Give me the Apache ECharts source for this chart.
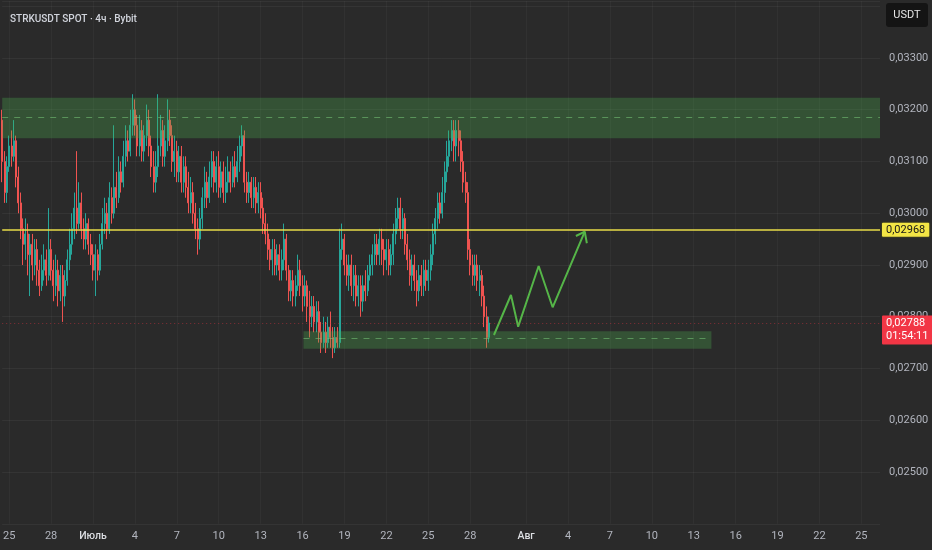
<!DOCTYPE html>
<html><head><meta charset="utf-8">
<script src="https://cdn.jsdelivr.net/npm/echarts@6/dist/echarts.min.js"></script>
<style>html,body{margin:0;padding:0;background:#2a2a2a;}#c{width:932px;height:550px;}</style>
</head><body><div id="c"></div>
<script>
// ---- data ----
const titleText = 'STRKUSDT SPOT · 4ч · Bybit';
const quoteCurrency = 'USDT';
const startUTC = Date.UTC(2025, 5, 24, 12); // first 4h candle
const stepHours = 4;
const slotCount = 378;                      // visible 4h slots incl. empty future
const monthNames = {5: 'Июнь', 6: 'Июль', 7: 'Авг'};
const tickDays = [1, 4, 7, 10, 13, 16, 19, 22, 25, 28];
const priceMin = 0.024, priceMax = 0.0341, priceStep = 0.001, lastLabelPrice = 0.033;

const firstOpen = 0.0318;
const closes = [
0.0310,0.0304,0.0309,0.0313,0.0311,0.0314,0.0307,0.0302,0.0297,0.0294,
0.0296,0.0292,0.0294,0.0290,0.0293,0.0289,0.0286,0.0289,0.0291,0.0288,
0.0293,0.0289,0.0286,0.0289,0.0285,0.0288,0.0284,0.0287,0.0291,0.0294,
0.0297,0.0301,0.0298,0.0302,0.0297,0.0295,0.0298,0.0294,0.0292,0.0289,
0.0292,0.0289,0.0294,0.0298,0.0300,0.0297,0.0303,0.0300,0.0305,0.0303,
0.0308,0.0306,0.0311,0.0314,0.0312,0.0317,0.0320,0.0317,0.0313,0.0316,
0.0312,0.0315,0.0318,0.0313,0.0309,0.0306,0.0309,0.0313,0.0316,0.0311,
0.0314,0.0318,0.0315,0.0310,0.0312,0.0308,0.0311,0.0306,0.0309,0.0305,
0.0302,0.0304,0.0300,0.0297,0.0295,0.0299,0.0303,0.0306,0.0303,0.0307,
0.0310,0.0306,0.0309,0.0305,0.0308,0.0304,0.0306,0.0308,0.0306,0.0309,
0.0307,0.0310,0.0313,0.0315,0.0306,0.0304,0.0306,0.0303,0.0305,0.0302,
0.0304,0.0301,0.0298,0.0296,0.0293,0.0291,0.0293,0.0290,0.0292,0.0289,
0.0291,0.0295,0.0289,0.0285,0.0287,0.0284,0.0286,0.0289,0.0286,0.0284,
0.0286,0.0282,0.0280,0.0282,0.0279,0.0281,0.0277,0.0275,0.0277,0.0275,
0.0278,0.0276,0.0274,0.0276,0.0275,0.0293,0.0295,0.0290,0.0288,0.0290,
0.0286,0.0288,0.0284,0.0286,0.0283,0.0286,0.0285,0.0288,0.0290,0.0292,
0.0294,0.0292,0.0295,0.0293,0.0291,0.0293,0.0290,0.0292,0.0296,0.0299,
0.0301,0.0297,0.0299,0.0294,0.0291,0.0288,0.0290,0.0287,0.0285,0.0288,
0.0286,0.0289,0.0287,0.0289,0.0292,0.0296,0.0299,0.0302,0.0300,0.0304,
0.0308,0.0311,0.0314,0.0316,0.0313,0.0316,0.0314,0.0310,0.0306,0.0304,
0.0293,0.0290,0.0288,0.0290,0.0287,0.0288,0.0284,0.0280,0.0276,0.02788];
const highs = [
.0320,.0312,.0311,.0315,.0316,.0318,.0315,.0309,.0304,.0299,
.0299,.0298,.0296,.0296,.0295,.0295,.0291,.0292,.0294,.0293,
.0301,.0295,.0291,.0292,.0291,.0290,.0290,.0289,.0293,.0297,
.0300,.0304,.0312,.0306,.0304,.0299,.0300,.0299,.0296,.0294,
.0294,.0293,.0296,.0301,.0303,.0302,.0306,.0305,.0317,.0308,
.0311,.0310,.0314,.0317,.0316,.0320,.0323,.0322,.0319,.0319,
.0318,.0317,.0321,.0320,.0315,.0312,.0312,.0323,.0319,.0318,
.0317,.0322,.0320,.0317,.0315,.0314,.0313,.0313,.0311,.0311,
.0308,.0307,.0306,.0302,.0299,.0301,.0305,.0309,.0308,.0310,
.0312,.0312,.0311,.0312,.0310,.0310,.0309,.0311,.0310,.0311,
.0312,.0313,.0315,.0317,.0316,.0308,.0308,.0307,.0307,.0307,
.0306,.0306,.0303,.0300,.0298,.0295,.0295,.0295,.0294,.0294,
.0293,.0298,.0296,.0290,.0289,.0289,.0288,.0292,.0291,.0288,
.0288,.0287,.0285,.0284,.0284,.0283,.0283,.0279,.0280,.0279,
.0280,.0281,.0278,.0278,.0278,.0297,.0298,.0296,.0292,.0292,
.0292,.0290,.0290,.0288,.0288,.0288,.0289,.0290,.0292,.0294,
.0296,.0296,.0297,.0297,.0295,.0295,.0295,.0294,.0298,.0301,
.0303,.0303,.0301,.0300,.0296,.0293,.0292,.0292,.0289,.0290,
.0290,.0291,.0291,.0291,.0294,.0298,.0301,.0304,.0304,.0307,
.0310,.0314,.0316,.0318,.0318,.0318,.0318,.0316,.0312,.0308,
.0306,.0295,.0292,.0292,.0292,.0290,.0289,.0286,.0282,.0280];
const lows = [
.0306,.0302,.0302,.0308,.0309,.0310,.0305,.0300,.0295,.0290,
.0291,.0288,.0284,.0287,.0288,.0286,.0284,.0285,.0287,.0286,
.0287,.0287,.0283,.0284,.0282,.0283,.0279,.0282,.0286,.0289,
.0292,.0295,.0296,.0297,.0295,.0293,.0293,.0292,.0290,.0287,
.0284,.0287,.0288,.0293,.0296,.0295,.0296,.0298,.0299,.0301,
.0302,.0304,.0305,.0309,.0310,.0311,.0315,.0315,.0311,.0311,
.0310,.0310,.0313,.0311,.0307,.0304,.0304,.0307,.0311,.0309,
.0309,.0312,.0313,.0308,.0307,.0306,.0306,.0304,.0304,.0303,
.0300,.0300,.0298,.0295,.0292,.0293,.0297,.0301,.0301,.0302,
.0305,.0304,.0304,.0303,.0303,.0302,.0302,.0304,.0304,.0305,
.0305,.0306,.0308,.0311,.0304,.0302,.0302,.0301,.0301,.0300,
.0300,.0299,.0296,.0294,.0291,.0289,.0288,.0288,.0288,.0287,
.0287,.0289,.0287,.0283,.0283,.0282,.0282,.0285,.0284,.0281,
.0282,.0279,.0276,.0278,.0277,.0277,.0275,.0273,.0274,.0273,
.0274,.0274,.0272,.0273,.0274,.0274,.0291,.0288,.0286,.0285,
.0284,.0283,.0282,.0282,.0280,.0281,.0283,.0284,.0287,.0288,
.0290,.0290,.0290,.0290,.0288,.0289,.0288,.0288,.0290,.0294,
.0297,.0295,.0295,.0292,.0289,.0286,.0285,.0285,.0282,.0283,
.0284,.0284,.0285,.0285,.0287,.0290,.0294,.0297,.0298,.0299,
.0302,.0306,.0309,.0312,.0310,.0310,.0311,.0308,.0304,.0302,
.0291,.0288,.0286,.0286,.0285,.0284,.0282,.0278,.0274,.0275];

// drawings (slot index, price)
const resistanceZone = [0.03223, 0.03145];
const resistanceMid = 0.031846;
const supportZone = [0.02772, 0.02738];
const supportMid = 0.027584;
const supportZoneSlots = [129.4, 304.6];
const keyLevel = 0.02968;
const lastPrice = 0.02788;
const countdown = '01:54:11';
const projectionPath = [[211.2,0.027647],[218.5,0.02842],[221.6,0.027808],[230.4,0.028981],[236.4,0.028183],[250.2,0.029643]];
const arrowHead = [[246.4,0.02956],[250.2,0.029643],[251.1,0.02942]];

// ---- build ----
const slotDates = [];
const categories = [];
for (let i = 0; i < slotCount; i++) {
  const d = new Date(startUTC + i * stepHours * 3600e3);
  slotDates.push(d);
  categories.push(d.toISOString().slice(0, 16));
}
const candles = closes.map((c, i) => [i === 0 ? firstOpen : closes[i - 1], c, lows[i], highs[i]]);
const isTick = (idx) => { const d = slotDates[idx]; return d && d.getUTCHours() === 0 && tickDays.includes(d.getUTCDate()); };
const fmtPrice = (v) => v.toFixed(5).replace('.', ',');
const lastX = slotCount - 1;

const chart = echarts.init(document.getElementById('c'));
chart.setOption({
  animation: false,
  backgroundColor: '#2a2a2a',
  textStyle: {fontFamily: 'Roboto, "Liberation Sans", sans-serif'},
  title: {text: titleText, left: 5, top: 9, textStyle: {color: '#d1d4dc', fontSize: 10, fontWeight: 500, fontFamily: 'Roboto'}},
  grid: {left: 0, right: 52, top: 1.07, bottom: 26.25},
  xAxis: [{
    type: 'category', data: categories, boundaryGap: false,
    axisLine: {show: false}, axisTick: {show: false},
    axisLabel: {
      interval: (idx) => isTick(idx), color: '#b2b5be', fontSize: 11, margin: 7,
      formatter: (val, idx) => { const d = slotDates[idx]; return d.getUTCDate() === 1 ? '{m|' + monthNames[d.getUTCMonth()] + '}' : String(d.getUTCDate()); },
      rich: {m: {color: '#dcdee2', fontWeight: 500, fontSize: 10.5}}
    },
    splitLine: {show: true, interval: (idx) => isTick(idx), lineStyle: {color: 'rgba(255,255,255,0.035)', width: 1}}
  }, {
    type: 'value', min: 0, max: lastX, show: false
  }],
  yAxis: {
    type: 'value', position: 'right', min: priceMin, max: priceMax, interval: priceStep, scale: true,
    axisLine: {show: false}, axisTick: {show: false},
    axisLabel: {color: '#b2b5be', fontSize: 11, margin: 9, showMinLabel: false, showMaxLabel: false,
      formatter: (v) => (v > lastLabelPrice + 1e-6 || v < priceMin + 1e-6) ? '' : fmtPrice(v)},
    splitLine: {lineStyle: {color: '#343434', width: 1}}
  },
  graphic: [{
    type: 'group', right: 4, top: 3, z: 100, children: [
      {type: 'rect', shape: {x: 0, y: 0, width: 42, height: 24, r: 3}, style: {fill: '#141414'}},
      {type: 'text', style: {x: 21, y: 12, text: quoteCurrency, fill: '#e6e6e6', fontSize: 11, fontFamily: 'Roboto', align: 'center', verticalAlign: 'middle'}}
    ]
  }],
  series: [{
    type: 'candlestick', data: candles, barWidth: 1.5, z: 2,
    itemStyle: {color: '#26a69a', color0: '#ef5350', borderColor: '#26a69a', borderColor0: '#ef5350', borderWidth: 1}
  }, {
    type: 'line', xAxisIndex: 1, data: projectionPath, showSymbol: false, symbol: 'none', z: 4,
    lineStyle: {color: '#55b548', width: 2}, silent: true,
    markArea: {
      silent: true, z: 3,
      itemStyle: {color: 'rgba(76,175,80,0.30)'},
      data: [
        [{xAxis: 0, yAxis: resistanceZone[0]}, {xAxis: lastX, yAxis: resistanceZone[1]}],
        [{xAxis: supportZoneSlots[0], yAxis: supportZone[0]}, {xAxis: supportZoneSlots[1], yAxis: supportZone[1]}]
      ]
    },
    markLine: {
      silent: true, symbol: ['none', 'none'], animation: false, precision: 6,
      data: [
        [{coord: [0, resistanceMid], lineStyle: {color: 'rgba(120,200,120,0.55)', type: [6, 6], width: 1}, label: {show: false}},
         {coord: [lastX, resistanceMid]}],
        [{coord: [supportZoneSlots[0], supportMid], lineStyle: {color: 'rgba(120,200,120,0.55)', type: [6, 6], width: 1}, label: {show: false}},
         {coord: [supportZoneSlots[1], supportMid]}],
        [{coord: [0, lastPrice], lineStyle: {color: 'rgba(242,54,69,0.45)', type: [1, 3], width: 1},
          label: {show: true, position: 'end', distance: 2, offset: [0, 7], formatter: fmtPrice(lastPrice) + '\n' + countdown,
                  backgroundColor: '#f23645', color: '#ffffff', fontSize: 11, lineHeight: 13, padding: [2, 4, 1, 4], borderRadius: 1, fontFamily: 'Roboto'}},
         {coord: [lastX, lastPrice]}],
        [{coord: [0, keyLevel], lineStyle: {color: '#e8dc48', type: 'solid', width: 1.5},
          label: {show: true, position: 'end', distance: 2, formatter: fmtPrice(keyLevel),
                  backgroundColor: '#f3e545', color: '#161616', fontSize: 11, padding: [2, 4, 1, 4], borderColor: '#3a3a20', borderWidth: 1, borderRadius: 1, fontFamily: 'Roboto'}},
         {coord: [lastX, keyLevel]}]
      ]
    }
  }, {
    type: 'line', xAxisIndex: 1, data: arrowHead, showSymbol: false, symbol: 'none', z: 4,
    lineStyle: {color: '#55b548', width: 2}, silent: true
  }]
});
</script></body></html>
